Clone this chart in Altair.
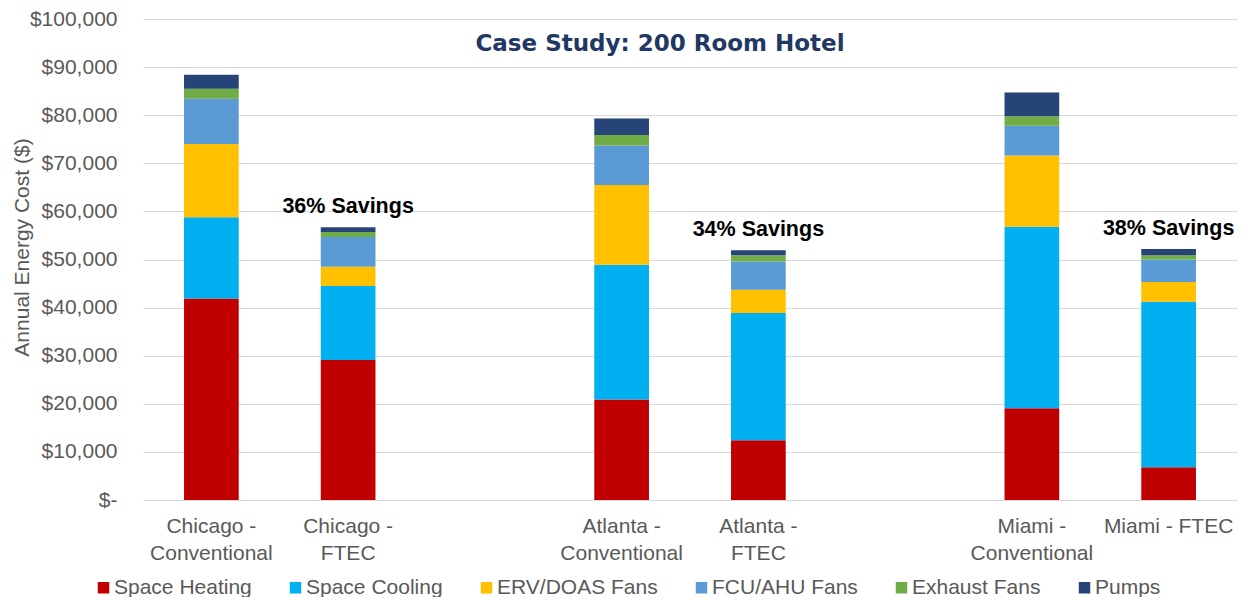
import altair as alt
import pandas as pd

categories = ["Chicago - Conventional", "Chicago - FTEC", "Atlanta - Conventional",
              "Atlanta - FTEC", "Miami - Conventional", "Miami - FTEC"]
slots = ["Chicago - Conventional", "Chicago - FTEC", "gap1",
         "Atlanta - Conventional", "Atlanta - FTEC", "gap2",
         "Miami - Conventional", "Miami - FTEC"]
components = ["Space Heating", "Space Cooling", "ERV/DOAS Fans",
              "FCU/AHU Fans", "Exhaust Fans", "Pumps"]
colors = ["#C00000", "#00B0F0", "#FFC000", "#5B9BD5", "#70AD47", "#264478"]

space_heating = [41900, 29100, 20900, 12400, 19100, 6800]
space_cooling = [16900, 15400, 28000, 26500, 37700, 34400]
erv_doas_fans = [15200, 4000, 16600, 4800, 14800, 4100]
fcu_ahu_fans = [9400, 6200, 8200, 5900, 6200, 4700]
exhaust_fans = [2100, 1000, 2200, 1300, 2000, 900]
pumps = [2900, 1000, 3400, 1000, 4900, 1300]

savings_cats = ["Chicago - FTEC", "Atlanta - FTEC", "Miami - FTEC"]
savings_labels = ["36% Savings", "34% Savings", "38% Savings"]

y_ticks = [0, 10000, 20000, 30000, 40000, 50000, 60000, 70000, 80000, 90000, 100000]

series = [space_heating, space_cooling, erv_doas_fans, fcu_ahu_fans, exhaust_fans, pumps]
rows = []
for ci, cat in enumerate(categories):
    for k, comp in enumerate(components):
        rows.append({"cat": cat, "component": comp, "idx": k, "value": series[k][ci]})
df = pd.DataFrame(rows)

totals = df.groupby("cat")["value"].sum()
sav_df = pd.DataFrame({"cat": savings_cats,
                       "value": [totals[c] for c in savings_cats],
                       "label": savings_labels})

FONT = "Liberation Sans"
GREY = "#595959"

x_enc = alt.X(
    "cat:N",
    scale=alt.Scale(domain=slots, paddingInner=0.6, paddingOuter=0.3),
    axis=alt.Axis(
        title=None,
        labelExpr="indexof(datum.label, 'gap') == 0 ? '' : (datum.label == 'Miami - FTEC' ? datum.label : split(replace(datum.label, ' - ', ' -|'), '|'))",
        labelAngle=0, labelFontSize=21, labelColor=GREY, labelFont=FONT,
        labelPadding=15, labelLineHeight=27, domain=False, ticks=False,
        labelLimit=300, grid=False,
    ),
)

y_axis = alt.Axis(
    values=y_ticks,
    labelExpr="datum.value == 0 ? '$-' : '$' + format(datum.value, ',')",
    title="Annual Energy Cost ($)",
    titleFontSize=21, titleFont=FONT, titleFontWeight="normal", titleColor=GREY,
    titleX=-111, titleY=228,
    labelFontSize=21, labelFont=FONT, labelColor=GREY,
    labelPadding=26, ticks=False, tickSize=0, domain=False,
    grid=True, gridColor="#D9D9D9", gridWidth=1.2,
)
y_scale = alt.Scale(domain=[0, 100000], nice=False)

bars = alt.Chart(df).mark_bar().encode(
    x=x_enc,
    y=alt.Y("value:Q", stack="zero", scale=y_scale, axis=y_axis),
    color=alt.Color(
        "component:N",
        scale=alt.Scale(domain=components, range=colors),
        legend=alt.Legend(
            title=None, orient="none", legendX=-50, legendY=558,
            direction="horizontal", symbolType="square", symbolSize=132,
            symbolStrokeWidth=0, labelFontSize=21, labelColor=GREY,
            labelFont=FONT, columnPadding=33, labelOffset=0, padding=0,
            labelLimit=300,
        ),
    ),
    order=alt.Order("idx:Q", sort="ascending"),
)

text = alt.Chart(sav_df).mark_text(
    font=FONT, fontSize=21.5, fontWeight="bold", color="#000000",
    baseline="alphabetic", dy=-14,
).encode(
    x=x_enc,
    y=alt.Y("value:Q", scale=y_scale, axis=y_axis),
    text="label:N",
)

chart = alt.layer(bars, text).properties(
    width=1094,
    height=481,
    title=alt.TitleParams(
        "Case Study: 200 Room Hotel", font="DejaVu Sans", fontSize=23,
        fontWeight="bold", color="#1F3864", anchor="middle", frame="group",
        dx=-30, dy=52,
    ),
    padding={"left": 135, "top": 11, "right": 2, "bottom": 97},
    autosize=alt.AutoSizeParams(type="none"),
).configure_view(stroke=None)

chart.save("out.html", embed_options={"renderer": "svg", "actions": False})
